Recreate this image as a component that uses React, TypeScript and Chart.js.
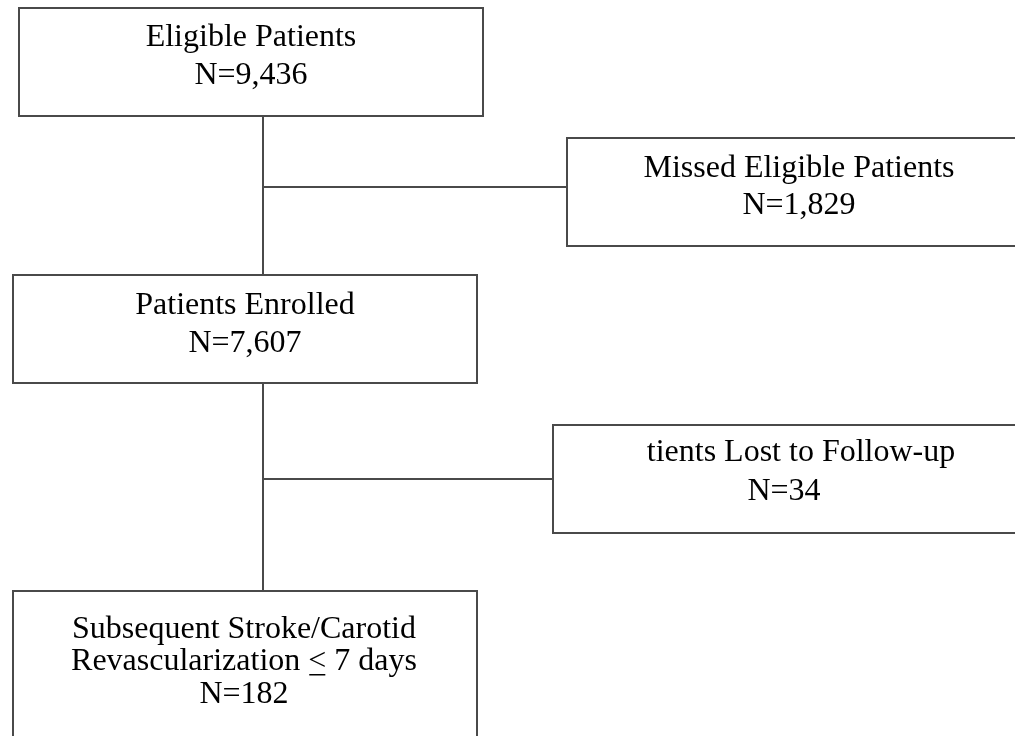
import React, { useEffect, useRef } from "react";
import { Chart, registerables } from "chart.js";

Chart.register(...registerables);

// Flowchart boxes: [left, top, right, bottom] in the diagram's coordinate space
const boxNames = ["eligible", "missed", "enrolled", "lost", "outcome"];
const boxLeft = [19, 567, 13, 553, 13];
const boxTop = [8, 138, 275, 425, 591];
const boxRight = [483, 1030, 477, 1030, 477];
const boxBottom = [116, 246, 383, 533, 760];

// Connector lines
const trunkX = 263;
const trunkSegments = [
  [116, 275],
  [383, 591],
];
const branchY = [187, 479];
const branchEndX = [567, 553];

// Box texts
const boxLines: string[][] = [
  ["Eligible Patients", "N=9,436"],
  ["Missed Eligible Patients", "N=1,829"],
  ["Patients Enrolled", "N=7,607"],
  ["tients Lost to Follow-up", "N=34"],
  ["Subsequent Stroke/Carotid", "Revascularization < 7 days", "N=182"],
];
const textCenterX: number[][] = [
  [251, 251],
  [799, 799],
  [245, 245],
  [801, 784],
  [244, 244, 244],
];
const textBaseline: number[][] = [
  [46, 84],
  [177, 214],
  [314, 352],
  [461, 500],
  [638, 670, 703],
];

const LINE = "#4a4a4a";
const FONT = "32px 'Liberation Serif', 'Times New Roman', serif";

export default function App() {
  const ref = useRef<HTMLCanvasElement | null>(null);

  useEffect(() => {
    if (!ref.current) return;

    const datasets: any[] = [];
    boxNames.forEach((name, i) => {
      datasets.push({
        label: name,
        data: [
          { x: boxLeft[i], y: boxTop[i] },
          { x: boxRight[i], y: boxTop[i] },
          { x: boxRight[i], y: boxBottom[i] },
          { x: boxLeft[i], y: boxBottom[i] },
          { x: boxLeft[i], y: boxTop[i] },
          { x: boxRight[i], y: boxTop[i] },
        ],
        showLine: true,
        borderColor: LINE,
        borderWidth: 2,
        pointRadius: 0,
        tension: 0,
        fill: false,
        borderJoinStyle: "miter",
      });
    });
    trunkSegments.forEach((seg, i) => {
      datasets.push({
        label: "trunk" + i,
        data: [
          { x: trunkX, y: seg[0] },
          { x: trunkX, y: seg[1] },
        ],
        showLine: true,
        borderColor: LINE,
        borderWidth: 2,
        pointRadius: 0,
        fill: false,
      });
    });
    branchY.forEach((y, i) => {
      datasets.push({
        label: "branch" + i,
        data: [
          { x: trunkX, y },
          { x: branchEndX[i], y },
        ],
        showLine: true,
        borderColor: LINE,
        borderWidth: 2,
        pointRadius: 0,
        fill: false,
      });
    });

    const textPlugin = {
      id: "boxText",
      afterDatasetsDraw(chart: any) {
        const ctx = chart.ctx;
        const xs = chart.scales.x;
        const ys = chart.scales.y;
        ctx.save();
        ctx.font = FONT;
        ctx.fillStyle = "#000";
        ctx.textBaseline = "alphabetic";
        ctx.textAlign = "center";
        boxLines.forEach((lines, i) => {
          lines.forEach((t, j) => {
            const cx = xs.getPixelForValue(textCenterX[i][j]);
            const by = ys.getPixelForValue(textBaseline[i][j]);
            ctx.fillText(t, cx, by);
            const idx = t.indexOf("<");
            if (idx >= 0) {
              const total = ctx.measureText(t).width;
              const pre = ctx.measureText(t.slice(0, idx)).width;
              const w = ctx.measureText("<").width;
              const x0 = cx - total / 2 + pre;
              ctx.fillRect(x0 + 1, by + 4, w - 2, 1.5);
            }
          });
        });
        ctx.restore();
      },
    };

    const chart = new Chart(ref.current, {
      type: "scatter",
      data: { datasets },
      options: {
        animation: false,
        responsive: false,
        maintainAspectRatio: false,
        layout: { padding: 0 },
        plugins: {
          legend: { display: false },
          tooltip: { enabled: false },
          title: { display: false },
        },
        events: [],
        scales: {
          x: { type: "linear", min: 0, max: 1015, display: false },
          y: { type: "linear", min: 0, max: 736, reverse: true, display: false },
        },
      },
      plugins: [textPlugin],
    });
    return () => chart.destroy();
  }, []);

  return (
    <div
      style={{
        position: "fixed",
        left: 0,
        top: 0,
        width: 1015,
        height: 736,
        background: "#fff",
      }}
    >
      <canvas ref={ref} width={1015} height={736} style={{ display: "block" }} />
    </div>
  );
}
